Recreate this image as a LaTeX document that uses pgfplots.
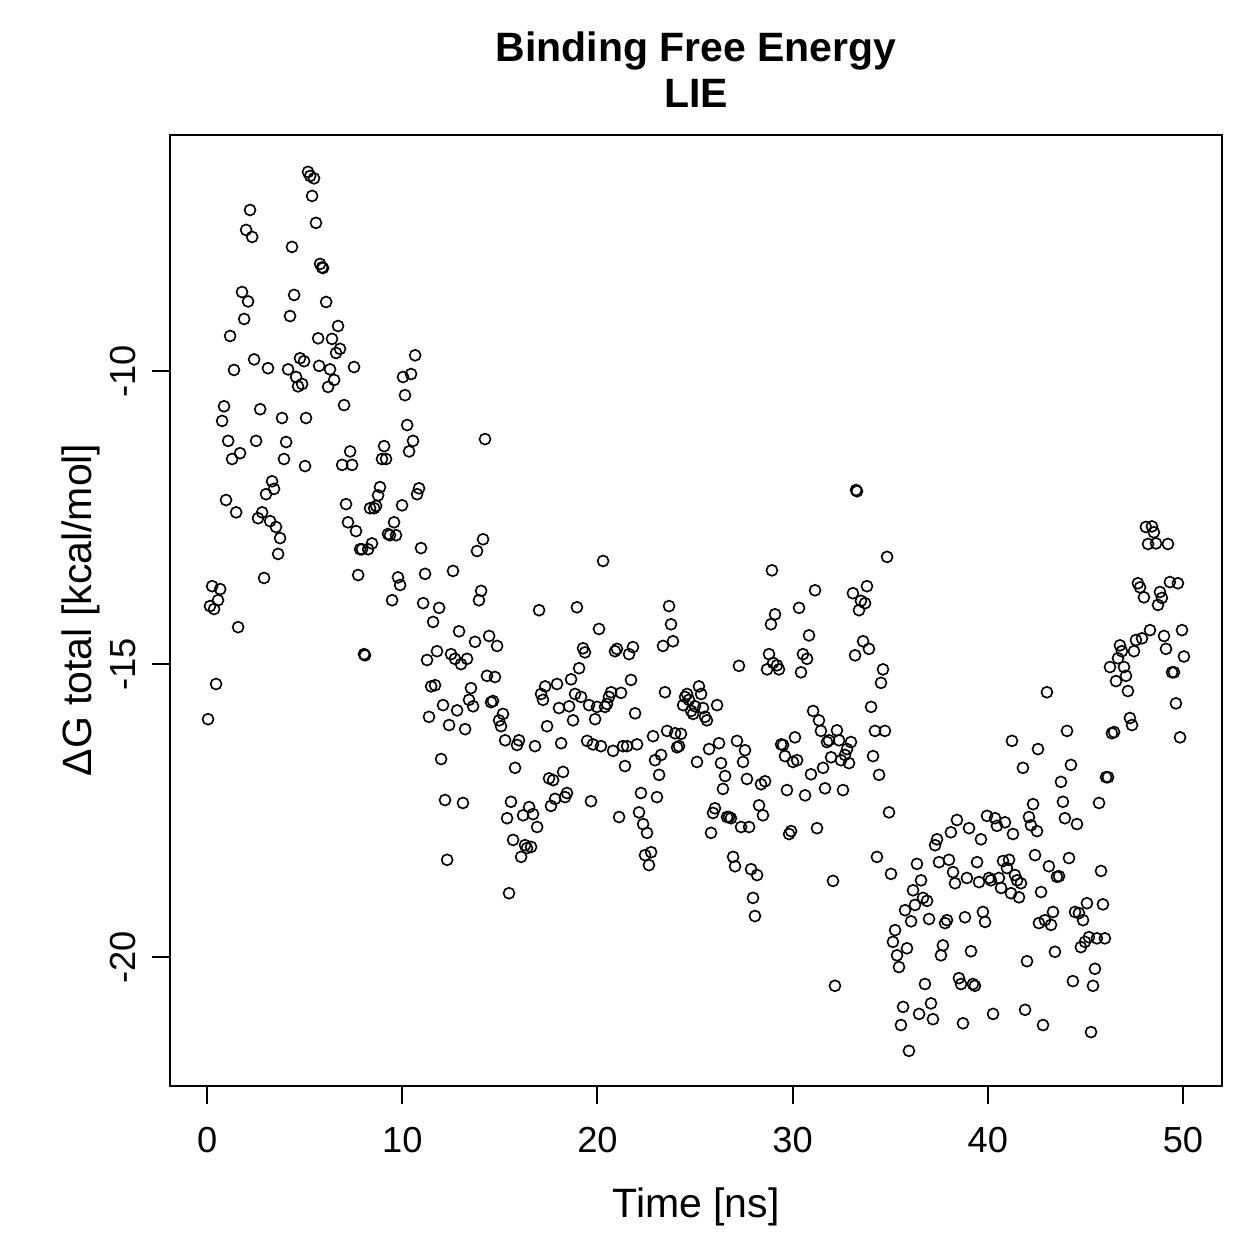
\documentclass[border=0pt]{standalone}
\usepackage{pgfplots}
\pgfplotsset{compat=1.18}
\usepackage{pgfplotstable}
\usepackage{fontspec}
\setmainfont{Liberation Sans}

\pgfplotstableread{
t y
0.05 -15.94
0.15 -14.01
0.26 -13.67
0.36 -14.06
0.46 -15.34
0.56 -13.91
0.67 -13.72
0.77 -10.85
0.87 -10.60
0.97 -12.20
1.08 -11.19
1.18 -9.40
1.28 -11.50
1.38 -9.98
1.49 -12.41
1.59 -14.37
1.69 -11.40
1.79 -8.65
1.90 -9.11
2.00 -7.59
2.10 -8.81
2.20 -7.25
2.31 -7.71
2.41 -9.80
2.51 -11.19
2.61 -12.51
2.72 -10.65
2.82 -12.41
2.92 -13.53
3.02 -12.10
3.12 -9.95
3.23 -12.56
3.33 -11.88
3.43 -12.01
3.53 -12.66
3.64 -13.12
3.74 -12.85
3.84 -10.80
3.94 -11.50
4.05 -11.21
4.15 -9.97
4.25 -9.06
4.35 -7.88
4.46 -8.70
4.56 -10.10
4.66 -10.26
4.76 -9.78
4.87 -10.22
4.97 -9.83
5.02 -11.62
5.07 -10.80
5.17 -6.60
5.28 -6.67
5.38 -7.01
5.48 -6.71
5.58 -7.47
5.69 -9.44
5.74 -9.91
5.79 -8.17
5.89 -8.23
5.94 -8.24
6.10 -8.82
6.20 -10.27
6.30 -9.97
6.40 -9.45
6.51 -10.15
6.61 -9.69
6.71 -9.23
6.81 -9.62
6.92 -11.60
7.02 -10.58
7.12 -12.27
7.22 -12.58
7.33 -11.37
7.43 -11.60
7.53 -9.93
7.63 -12.73
7.74 -13.48
7.84 -13.04
7.94 -13.04
8.04 -14.83
8.09 -14.85
8.25 -13.04
8.35 -12.34
8.45 -12.94
8.56 -12.34
8.66 -12.30
8.76 -12.12
8.86 -11.98
8.96 -11.50
9.07 -11.28
9.17 -11.50
9.27 -12.78
9.37 -12.80
9.48 -13.91
9.58 -12.58
9.68 -12.80
9.78 -13.52
9.89 -13.65
9.99 -12.29
10.04 -10.10
10.14 -10.41
10.25 -10.92
10.35 -11.37
10.45 -10.05
10.55 -11.19
10.66 -9.73
10.76 -12.10
10.86 -12.00
10.96 -13.02
11.07 -13.96
11.17 -13.46
11.27 -14.93
11.37 -15.90
11.48 -15.38
11.58 -14.28
11.68 -15.36
11.78 -14.78
11.89 -14.04
11.99 -16.62
12.09 -15.70
12.19 -17.32
12.30 -18.34
12.40 -16.04
12.50 -14.83
12.60 -13.41
12.70 -14.91
12.81 -15.79
12.91 -14.44
13.01 -15.00
13.11 -17.37
13.22 -16.11
13.32 -14.91
13.42 -15.61
13.52 -15.41
13.63 -15.72
13.73 -14.62
13.83 -13.07
13.93 -13.91
14.04 -13.75
14.14 -12.87
14.24 -11.16
14.34 -15.20
14.45 -14.52
14.55 -15.65
14.65 -15.63
14.75 -15.22
14.86 -14.69
14.96 -15.96
15.06 -16.06
15.16 -15.85
15.27 -16.30
15.37 -17.63
15.47 -18.91
15.57 -17.35
15.68 -18.00
15.78 -16.77
15.88 -16.38
15.98 -16.30
16.09 -18.29
16.19 -17.58
16.29 -18.09
16.39 -18.14
16.50 -17.44
16.60 -18.12
16.70 -17.56
16.80 -16.40
16.91 -17.78
17.01 -14.08
17.11 -15.51
17.21 -15.61
17.32 -15.38
17.42 -16.06
17.52 -16.95
17.62 -17.42
17.73 -16.98
17.83 -17.30
17.93 -15.34
18.03 -15.75
18.14 -16.35
18.24 -16.84
18.34 -17.27
18.44 -17.20
18.55 -15.72
18.65 -15.26
18.75 -15.96
18.85 -15.51
18.95 -14.03
19.06 -15.07
19.16 -15.56
19.26 -14.73
19.36 -14.80
19.47 -16.31
19.57 -15.70
19.67 -17.34
19.77 -16.37
19.88 -15.94
19.98 -15.73
20.08 -14.40
20.18 -16.40
20.29 -13.24
20.39 -15.73
20.49 -15.68
20.59 -15.56
20.70 -15.48
20.80 -16.48
20.90 -14.78
21.00 -14.74
21.11 -17.61
21.21 -15.49
21.31 -16.40
21.41 -16.74
21.52 -16.40
21.62 -14.83
21.72 -15.27
21.82 -14.71
21.93 -15.84
22.03 -16.37
22.13 -17.53
22.23 -17.20
22.34 -17.73
22.44 -18.26
22.54 -17.88
22.64 -18.43
22.75 -18.21
22.85 -16.23
22.95 -16.64
23.05 -17.27
23.16 -16.89
23.26 -16.55
23.36 -14.69
23.46 -15.48
23.57 -16.14
23.67 -14.01
23.77 -14.32
23.87 -14.61
23.98 -16.18
24.08 -16.42
24.18 -16.40
24.28 -16.19
24.39 -15.70
24.49 -15.56
24.59 -15.51
24.69 -15.61
24.80 -15.80
24.90 -15.85
25.00 -15.72
25.10 -16.67
25.20 -15.38
25.31 -15.51
25.41 -15.75
25.51 -15.90
25.61 -15.96
25.72 -16.45
25.82 -17.88
25.92 -17.54
26.02 -17.46
26.13 -15.70
26.23 -16.35
26.33 -16.69
26.43 -17.13
26.54 -16.91
26.64 -17.61
26.74 -17.61
26.84 -17.63
26.95 -18.29
27.05 -18.45
27.15 -16.31
27.25 -15.03
27.36 -17.78
27.46 -16.67
27.56 -16.47
27.66 -16.96
27.77 -17.78
27.87 -18.50
27.97 -18.99
28.07 -19.30
28.18 -18.60
28.28 -17.41
28.38 -17.05
28.48 -17.58
28.59 -17.00
28.69 -15.09
28.79 -14.83
28.89 -14.32
28.94 -13.40
29.00 -14.98
29.10 -14.15
29.20 -15.02
29.30 -15.09
29.41 -16.37
29.51 -16.38
29.61 -16.57
29.71 -17.15
29.82 -17.90
29.92 -17.85
30.02 -16.67
30.12 -16.25
30.23 -16.64
30.33 -14.04
30.43 -15.14
30.53 -14.83
30.64 -17.24
30.74 -14.91
30.84 -14.51
30.94 -16.88
31.05 -15.80
31.15 -13.74
31.25 -17.80
31.35 -15.96
31.45 -16.14
31.56 -16.77
31.66 -17.12
31.76 -16.33
31.86 -16.30
31.97 -16.59
32.07 -18.70
32.17 -20.49
32.27 -16.13
32.38 -16.30
32.48 -16.64
32.58 -17.15
32.68 -16.55
32.79 -16.45
32.89 -16.69
32.99 -16.33
33.09 -13.79
33.20 -14.85
33.25 -12.03
33.30 -12.05
33.40 -14.08
33.50 -13.92
33.61 -14.61
33.71 -13.96
33.81 -13.67
33.91 -14.74
34.02 -15.73
34.12 -16.57
34.22 -16.14
34.32 -18.29
34.43 -16.89
34.53 -15.32
34.63 -15.09
34.73 -16.14
34.84 -13.17
34.94 -17.53
35.04 -18.58
35.14 -19.74
35.25 -19.54
35.35 -19.97
35.45 -20.17
35.55 -21.16
35.66 -20.85
35.76 -19.20
35.86 -19.85
35.96 -21.60
36.07 -19.39
36.17 -18.86
36.27 -19.11
36.37 -18.41
36.48 -20.97
36.58 -18.69
36.68 -18.99
36.78 -20.46
36.89 -19.04
36.99 -19.35
37.09 -20.79
37.19 -21.06
37.30 -18.09
37.40 -17.99
37.50 -18.38
37.60 -19.97
37.70 -19.80
37.81 -19.42
37.91 -19.37
38.01 -18.34
38.11 -17.87
38.22 -18.55
38.32 -18.74
38.42 -17.66
38.52 -20.36
38.63 -20.46
38.73 -21.13
38.83 -19.32
38.93 -18.65
39.04 -17.80
39.14 -19.90
39.24 -20.46
39.34 -20.49
39.45 -18.38
39.55 -18.72
39.65 -17.99
39.75 -19.23
39.86 -19.40
39.96 -17.59
40.06 -18.65
40.16 -18.69
40.27 -20.97
40.37 -17.63
40.47 -17.76
40.57 -18.65
40.68 -18.82
40.78 -18.36
40.88 -17.70
40.98 -18.48
41.09 -18.34
41.19 -18.91
41.24 -16.31
41.29 -17.90
41.39 -18.60
41.50 -18.69
41.60 -18.98
41.70 -18.74
41.80 -16.77
41.91 -20.90
42.01 -20.07
42.11 -17.61
42.21 -17.75
42.32 -17.39
42.42 -18.26
42.52 -17.85
42.57 -16.45
42.62 -19.42
42.73 -18.89
42.83 -21.16
42.93 -19.37
43.03 -15.48
43.13 -18.45
43.24 -19.45
43.34 -19.23
43.44 -19.91
43.54 -18.63
43.65 -18.62
43.75 -17.01
43.85 -17.35
43.95 -17.63
44.06 -16.14
44.16 -18.31
44.26 -16.72
44.36 -20.41
44.47 -19.23
44.57 -17.73
44.67 -19.25
44.77 -19.83
44.88 -19.37
44.98 -19.74
45.08 -19.08
45.18 -19.66
45.29 -21.28
45.39 -20.49
45.49 -20.20
45.59 -19.68
45.70 -17.37
45.80 -18.53
45.90 -19.10
46.00 -19.68
46.06 -16.93
46.16 -16.93
46.26 -15.05
46.36 -16.18
46.47 -16.16
46.57 -15.29
46.67 -14.90
46.77 -14.68
46.87 -14.78
46.98 -15.05
47.08 -15.20
47.18 -15.46
47.28 -15.92
47.39 -16.04
47.49 -14.78
47.59 -14.59
47.69 -13.62
47.80 -13.69
47.90 -14.56
48.00 -13.86
48.10 -12.66
48.21 -12.95
48.31 -14.42
48.41 -12.65
48.51 -12.75
48.62 -12.94
48.72 -13.99
48.82 -13.77
48.92 -13.87
49.03 -14.52
49.13 -14.74
49.23 -12.95
49.33 -13.60
49.44 -15.14
49.54 -15.14
49.64 -15.67
49.74 -13.62
49.85 -16.25
49.95 -14.42
50.05 -14.87
}\lie

\begin{document}
\begin{tikzpicture}
\path[use as bounding box] (-68pt,-69.2pt) rectangle (435.6pt,434.4pt);
\begin{axis}[
  at={(0pt,0pt)}, anchor=south west, scale only axis,
  width=420.8pt, height=380.4pt,
  xmin=-1.9, xmax=52.0, ymin=-22.2, ymax=-5.97,
  axis line style={line width=0.8pt},
  xtick={0,10,20,30,40,50}, xticklabels={0,10,20,30,40,50},
  ytick={-20,-15,-10}, yticklabels={-20,-15,-10},
  tick align=outside, xtick pos=bottom, ytick pos=left,
  major tick length=7pt,
  tick style={line width=0.8pt, black},
  ticklabel style={font=\fontsize{14.5}{17}\selectfont},
  xticklabel style={anchor=base, yshift=-19.4pt},
  yticklabel style={xshift=-6.6pt, anchor=base, rotate=90},
  clip=false,
]
\addplot[only marks, mark=o, mark size=2.2pt, mark options={line width=0.65pt, black}] table[x=t, y=y] {\lie};
\end{axis}
\node[anchor=base, font=\bfseries\fontsize{16.4}{19}\selectfont] at (210.4pt,409.6pt) {Binding Free Energy};
\node[anchor=base, font=\bfseries\fontsize{16.4}{19}\selectfont] at (210.4pt,391.2pt) {LIE};
\node[anchor=base, font=\fontsize{16.4}{19}\selectfont] at (210.4pt,-52.8pt) {Time [ns]};
\node[anchor=base, rotate=90, font=\fontsize{16.4}{19}\selectfont] at (-31.4pt,190.4pt) {ΔG total [kcal/mol]};
\end{tikzpicture}
\end{document}
